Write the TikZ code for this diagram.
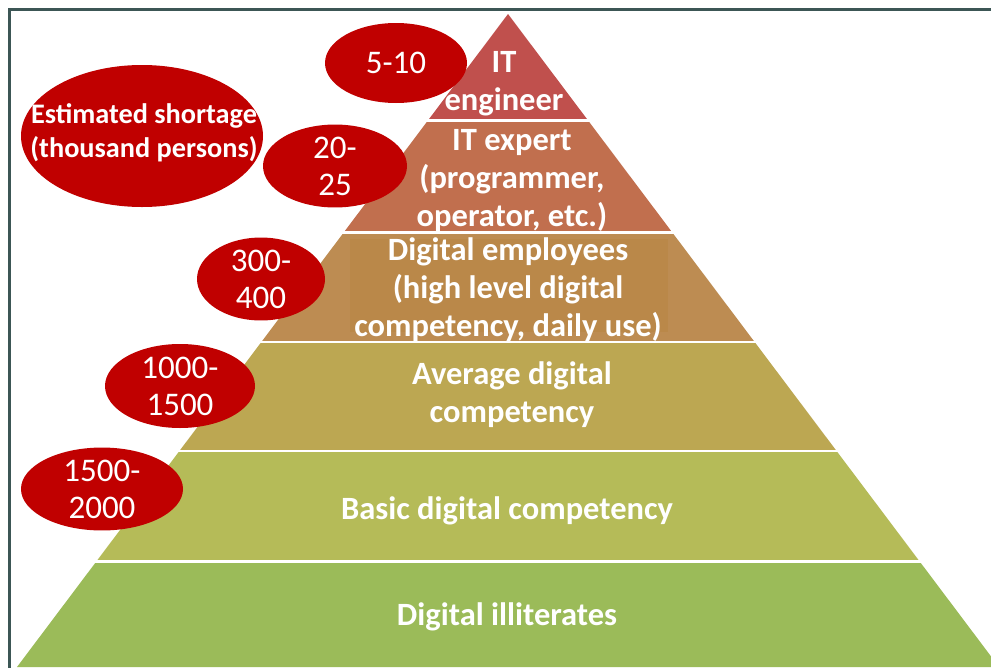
\documentclass[tikz,border=0pt]{standalone}
\usepackage{fontspec}
\setmainfont{Carlito}
\usetikzlibrary{shapes.geometric}
\definecolor{framecol}{HTML}{3C5655}
\definecolor{ovalred}{HTML}{C00000}
\definecolor{lvA}{HTML}{C0504D}
\definecolor{lvB}{HTML}{C16F4E}
\definecolor{lvC}{HTML}{BD8C52}
\definecolor{lvCbox}{HTML}{B8843F}
\definecolor{lvD}{HTML}{BCA752}
\definecolor{lvE}{HTML}{B5BB58}
\definecolor{lvF}{HTML}{9BBB59}
\tikzset{
  oval/.style={ellipse, fill=ovalred, inner sep=0pt, text=white, align=center,
    font=\fontsize{33}{37}\selectfont},
  tiertext/.style={text=white, align=center, inner sep=0pt,
    font=\bfseries\fontsize{32.5}{38}\selectfont},
}
\begin{document}
\begin{tikzpicture}[x=1pt, y=-1pt]
\useasboundingbox (0,0) rectangle (991,667);
% white page, a little larger than the page itself
\fill[white] (-6,-6) rectangle (997,673);

% pyramid bands: the whole triangle clipped to each horizontal strip
\coordinate (apex) at (508,14);
\coordinate (baseL) at (17,667);
\coordinate (baseR) at (999,667);
\foreach \top/\bot/\col in {14/118/lvA, 122/230/lvB, 234/340/lvC,
                             343/449/lvD, 452/559/lvE, 563/672/lvF}{
  \begin{scope}
    \clip (0,\top) rectangle (997,\bot);
    \fill[\col] (apex) -- (baseL) -- (baseR) -- cycle;
  \end{scope}
}
% darker text panel inside the third band
\fill[lvCbox, opacity=0.45] (350,239) rectangle (668,332);

% frame
\draw[framecol, line width=3pt] (997,9) -- (9,9) -- (9,673);

% tier labels
\node[tiertext] (t1) at (504,84) {IT\\engineer};
\node[tiertext] (t2) at (512,181) {IT expert\\(programmer,\\operator, etc.)};
\node[tiertext] (t3) at (508,290) {Digital employees\\(high level digital\\competency, daily use)};
\node[tiertext] (t4) at (512,395) {Average digital\\competency};
\node[tiertext] (t5) at (507,511) {Basic digital competency};
\node[tiertext] (t6) at (507,617) {Digital illiterates};

% shortage ovals
\node[oval, minimum width=142, minimum height=80] (o1) at (396,63) {5-10};
\node[oval, minimum width=144, minimum height=82] (o2) at (335,166) {20-\\25};
\node[oval, minimum width=128, minimum height=82] (o3) at (261,279) {300-\\400};
\node[oval, minimum width=150, minimum height=84] (o4) at (180,386) {1000-\\1500};
\node[oval, minimum width=162, minimum height=82] (o5) at (102,489) {1500-\\2000};
\node[oval, minimum width=242, minimum height=142] (ohead) at (142,136) {};
\node[tiertext, font=\bfseries\fontsize{28.3}{34}\selectfont] (head) at (144,133)
  {Estimated shortage\\(thousand persons)};
\end{tikzpicture}
\end{document}
